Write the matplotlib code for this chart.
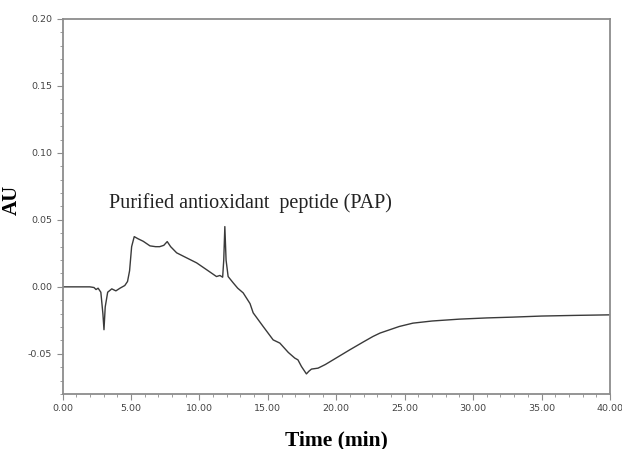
import matplotlib
matplotlib.use("Agg")
import matplotlib.pyplot as plt
from matplotlib.ticker import MultipleLocator, FormatStrFormatter

# chromatogram trace
time_min = [0.0, 1.0, 2.0, 2.3, 2.45, 2.6, 2.8, 2.95, 3.03, 3.12, 3.3, 3.6, 3.9, 4.2,
            4.55, 4.75, 4.9, 5.05, 5.24, 5.5, 5.9, 6.39, 6.8, 7.1, 7.4, 7.65, 7.9,
            8.34, 9.0, 9.8, 10.5, 11.25, 11.5, 11.7, 11.78, 11.86, 11.95, 12.1,
            12.47, 12.8, 13.2, 13.7, 13.93, 14.66, 15.39, 15.88, 16.5, 16.97, 17.2,
            17.46, 17.82, 18.0, 18.19, 18.67, 19.2, 19.77, 20.99, 22.0, 22.69,
            23.2, 24.6, 25.6, 27.0, 29.0, 31.0, 32.9, 35.0, 37.5, 40.0]
absorbance = [0.0, 0.0, 0.0, -0.0005, -0.002, -0.001, -0.004, -0.02, -0.032, -0.015,
              -0.004, -0.0015, -0.003, -0.001, 0.001, 0.004, 0.012, 0.03, 0.0375,
              0.036, 0.034, 0.0306, 0.030, 0.030, 0.031, 0.0338, 0.030, 0.0254,
              0.022, 0.0179, 0.013, 0.0077, 0.0085, 0.0072, 0.02, 0.045, 0.02,
              0.0077, 0.003, -0.001, -0.0045, -0.0125, -0.0194, -0.0296, -0.0396,
              -0.042, -0.049, -0.0532, -0.0545, -0.0595, -0.065, -0.063, -0.0614,
              -0.0607, -0.058, -0.0545, -0.047, -0.041, -0.037, -0.0345, -0.0296,
              -0.0271, -0.0255, -0.0241, -0.0232, -0.0226, -0.0218, -0.0213, -0.0209]

fig = plt.figure(figsize=(6.22, 4.49), dpi=100)
ax = fig.add_axes([0.1005, 0.1225, 0.8802, 0.8352])

ax.plot(time_min, absorbance, color='#3a3a3a', linewidth=1.0)

ax.set_xlim(0, 40)
ax.set_ylim(-0.08, 0.20)
ax.xaxis.set_major_locator(MultipleLocator(5))
ax.xaxis.set_minor_locator(MultipleLocator(1))
ax.yaxis.set_major_locator(MultipleLocator(0.05))
ax.yaxis.set_minor_locator(MultipleLocator(0.01))
ax.xaxis.set_major_formatter(FormatStrFormatter('%.2f'))
ax.yaxis.set_major_formatter(FormatStrFormatter('%.2f'))

for s in ax.spines.values():
    s.set_color('#8c8c8c')
    s.set_linewidth(1.3)
ax.tick_params(which='both', colors='#8c8c8c', labelcolor='#444444',
               labelsize=6.8, direction='out')
ax.tick_params(which='major', length=4)
ax.tick_params(which='minor', length=2.5)

ax.set_xlabel('Time (min)', fontfamily='Liberation Serif', fontweight='bold',
              fontsize=15.5, labelpad=12)
ax.set_ylabel('AU', fontfamily='Liberation Serif', fontweight='bold', fontsize=15)
ax.yaxis.set_label_coords(-0.074, 0.517)

ax.text(3.4, 0.059, 'Purified antioxidant  peptide (PAP)',
        fontfamily='Liberation Serif', fontsize=14.5, color='#222222')

fig.savefig('out.png', dpi=100)
